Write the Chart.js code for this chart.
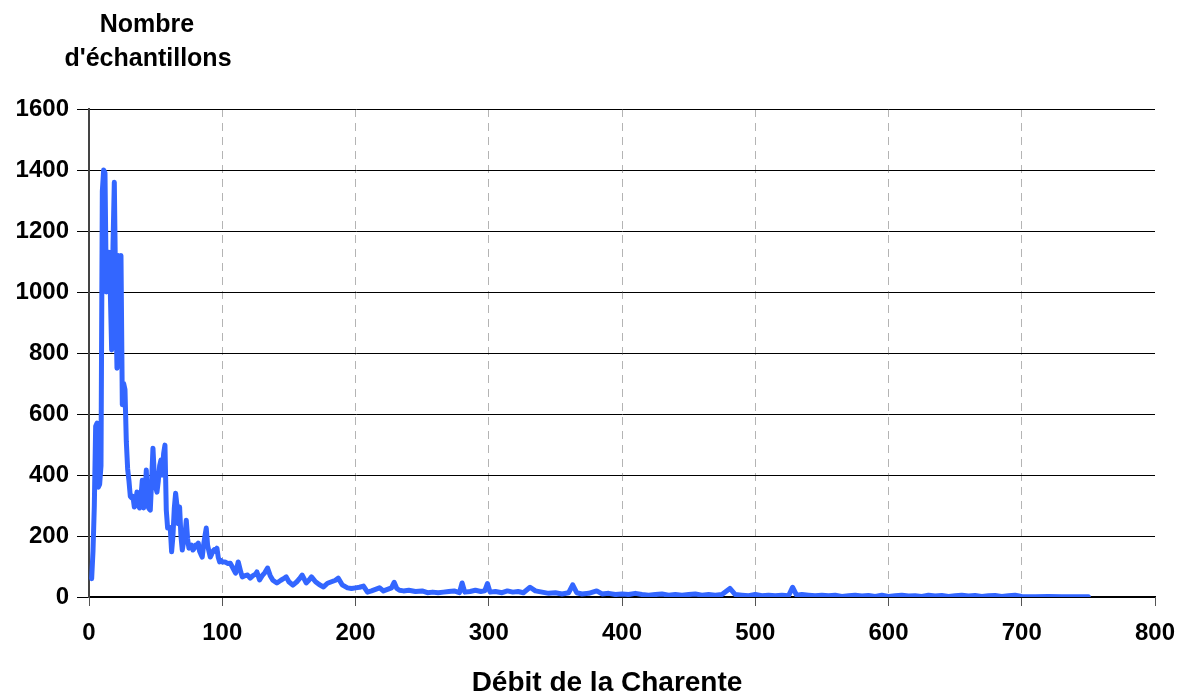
<!DOCTYPE html>
<html>
<head>
<meta charset="utf-8">
<script src="https://cdn.jsdelivr.net/npm/chart.js@4/dist/chart.umd.min.js"></script>
<style>
  html, body { margin: 0; padding: 0; background: #fff; }
  #wrap { width: 1180px; height: 692px; position: relative; }
</style>
</head>
<body>
<div id="wrap"><canvas id="debitChart"></canvas></div>
<script>
// débit (x) et nombre d'échantillons (y)
var debits = [
  2, 3, 4, 5, 6, 7, 8, 9, 10, 11, 12, 13, 14, 15, 16, 17, 18, 19, 20,
  21, 22, 23, 24, 25, 26, 27, 28, 29, 30, 31, 32, 33, 34, 35, 36, 37, 38, 39, 40,
  41, 42, 43, 44, 45, 46, 47, 48, 49, 50, 51, 52, 53, 54, 55, 56, 57, 58, 59, 60,
  61, 62, 63, 64, 65, 66, 67, 68, 69, 70, 71, 72, 73, 74, 75, 76, 77, 78, 79, 80,
  81, 82, 83, 84, 85, 86, 87, 88, 89, 90, 91, 92, 93, 94, 95, 96, 97, 98, 99, 100,
  102, 104, 106, 108, 110, 112, 114, 115, 117, 119, 121, 123, 125, 126, 128, 130,
  132, 134, 136, 138, 141, 144, 146, 148, 150, 153, 156, 158, 160, 163, 165, 167,
  170, 173, 176, 179, 182, 185, 187, 190, 194, 197, 200, 203, 206, 209, 212, 215,
  218, 221, 224, 227, 229, 231, 233, 236, 240, 245, 250, 254, 258, 262, 266, 270,
  274, 278, 280, 282, 286, 290, 294, 297, 299, 301, 305, 310, 314, 318, 322, 326,
  331, 335, 340, 345, 350, 355, 360, 363, 366, 370, 375, 381, 385, 390, 395, 400,
  405, 410, 415, 420, 425, 430, 435, 440, 445, 450, 455, 460, 465, 470, 475, 481,
  485, 490, 495, 500, 505, 510, 515, 520, 525, 528, 531, 535, 540, 545, 550, 555,
  560, 565, 570, 575, 580, 585, 590, 595, 600, 605, 610, 615, 620, 625, 630, 635,
  640, 645, 650, 655, 660, 665, 670, 675, 680, 685, 690, 695, 700, 710, 720, 730,
  740, 750
];
var echantillons = [
  60, 150, 300, 560, 570, 360, 370, 430, 1330, 1400, 1390, 1000, 1120, 1130, 1000, 810, 1150, 1360, 1000,
  750, 1120, 810, 1120, 630, 700, 680, 510, 420, 380, 330, 325, 330, 295, 310, 344, 300, 292, 330, 383,
  292, 330, 416, 300, 290, 285, 380, 488, 400, 360, 344, 380, 430, 449, 400, 470, 498, 285, 226, 230,
  226, 148, 200, 290, 340, 300, 240, 295, 200, 154, 180, 200, 252, 190, 160, 165, 170, 154, 160, 170,
  165, 177, 150, 140, 131, 170, 200, 226, 170, 150, 131, 140, 150, 155, 150, 160, 130, 115, 120, 115,
  115, 110, 111, 95, 78, 115, 80, 66, 70, 72, 62, 70, 75, 82, 56, 70,
  80, 95, 70, 55, 46, 55, 60, 66, 50, 39, 50, 60, 72, 46, 55, 66,
  50, 40, 33, 45, 50, 55, 62, 40, 30, 28, 30, 32, 36, 16, 20, 25,
  30, 20, 25, 30, 48, 28, 22, 20, 22, 18, 20, 14, 16, 14, 16, 18,
  20, 14, 46, 16, 18, 22, 18, 20, 44, 16, 18, 14, 20, 16, 18, 14,
  32, 20, 16, 12, 14, 10, 14, 40, 14, 10, 12, 20, 10, 12, 8, 10,
  8, 12, 8, 6, 8, 10, 6, 8, 6, 8, 10, 6, 8, 6, 8, 28,
  8, 6, 4, 8, 4, 6, 4, 6, 4, 32, 6, 8, 6, 4, 6, 4,
  6, 2, 4, 6, 3, 5, 2, 6, 2, 4, 6, 3, 4, 2, 6, 3,
  5, 2, 4, 6, 3, 5, 2, 4, 5, 2, 4, 6, 2, 1, 2, 1,
  1, 1
];
var xTicks = [0, 100, 200, 300, 400, 500, 600, 700, 800];
var yTicks = [0, 200, 400, 600, 800, 1000, 1200, 1400, 1600];

var titreY = ["Nombre", "d'échantillons"];
var titreX = "Débit de la Charente";

var points = [];
for (var i = 0; i < debits.length; i++) {
  points.push({ x: debits[i], y: echantillons[i] });
}

var police = "'Liberation Sans', Arial, sans-serif";

// titres dessinés à la main
var titres = {
  id: "titres",
  afterDraw: function (chart) {
    var ctx = chart.ctx;
    ctx.save();
    ctx.fillStyle = "#000";
    ctx.font = "bold 25px " + police;
    ctx.textAlign = "center";
    ctx.textBaseline = "middle";
    ctx.fillText(titreY[0], 147, 25);
    ctx.fillText(titreY[1], 148, 59);
    ctx.font = "bold 28px " + police;
    ctx.fillText(titreX, 607, 683);
    ctx.restore();
  },
};

new Chart(document.getElementById("debitChart"), {
  type: "line",
  data: {
    datasets: [
      {
        data: points,
        borderColor: "#3366ff",
        borderWidth: 5,
        borderJoinStyle: "round",
        borderCapStyle: "round",
        pointRadius: 0,
        tension: 0,
        fill: false,
      },
    ],
  },
  options: {
    responsive: true,
    maintainAspectRatio: false,
    animation: false,
    layout: { padding: { top: 109, right: 25, left: 0, bottom: 0 } },
    plugins: {
      legend: { display: false },
      tooltip: { enabled: false },
    },
    scales: {
      x: {
        type: "linear",
        min: 0,
        max: 800,
        afterBuildTicks: function (axis) {
          axis.ticks = xTicks.map(function (v) { return { value: v }; });
        },
        afterFit: function (axis) {
          axis.height = 95;
          axis.paddingLeft = 0;
          axis.paddingRight = 0;
        },
        ticks: {
          color: "#000",
          font: { family: police, size: 24, weight: "bold" },
          padding: 13,
          maxRotation: 0,
          callback: function (v) { return String(v); },
        },
        grid: {
          color: function (c) {
            return c.tick && (c.tick.value === 0 || c.tick.value === 800) ? "rgba(0,0,0,0)" : "#b4b4b4";
          },
          lineWidth: 1,
          tickColor: "#555",
          tickBorderDash: [],
          tickLength: 9,
        },
        border: { display: true, color: "#000", width: 1.5, dash: [8, 6] },
      },
      y: {
        min: 0,
        max: 1600,
        afterBuildTicks: function (axis) {
          axis.ticks = yTicks.map(function (v) { return { value: v }; });
        },
        afterFit: function (axis) { axis.width = 89; },
        ticks: {
          color: "#000",
          font: { family: police, size: 24, weight: "bold" },
          padding: 8,
          callback: function (v) { return String(v); },
        },
        grid: {
          color: "#000",
          lineWidth: 1,
          tickColor: "#000",
          tickLength: 12,
        },
        border: { display: true, color: "#444", width: 2 },
      },
    },
  },
  plugins: [titres],
});
</script>
</body>
</html>
